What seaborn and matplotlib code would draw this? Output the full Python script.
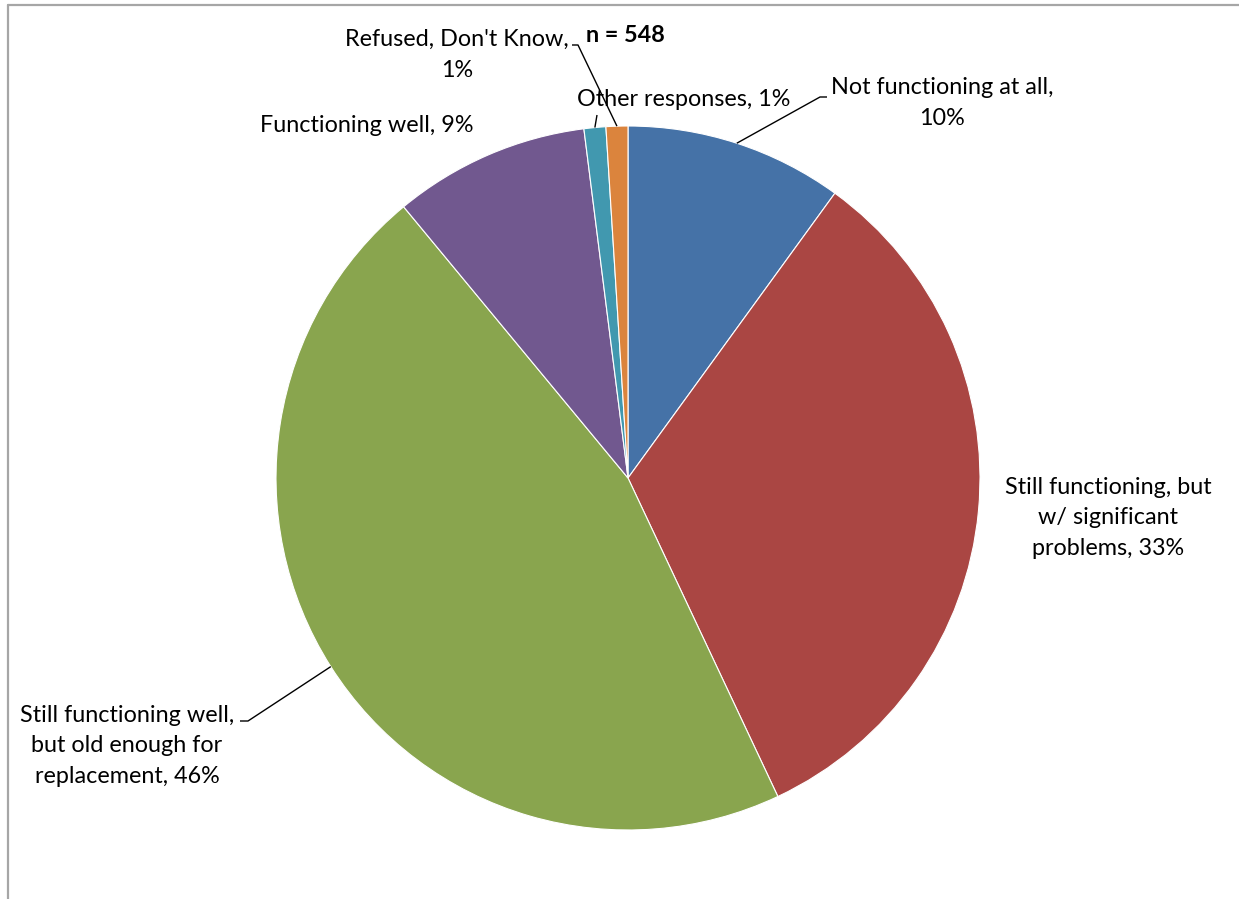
import numpy as np
import matplotlib
matplotlib.use("Agg")
import matplotlib.pyplot as plt
from matplotlib.lines import Line2D
import seaborn as sns

# Survey responses, clockwise from 12 o'clock
categories = [
    "Not functioning at all",
    "Still functioning, but w/ significant problems",
    "Still functioning well, but old enough for replacement",
    "Functioning well",
    "Other responses",
    "Refused, Don't Know",
]
shares = [10, 33, 46, 9, 1, 1]
label_texts = [
    "Not functioning at all,\n10%",
    "Still functioning, but\nw/ significant\nproblems, 33%",
    "Still functioning well,\nbut old enough for\nreplacement, 46%",
    "Functioning well, 9%",
    "Other responses, 1%",
    "Refused, Don't Know,\n1%",
]
colors = ["#4572A7", "#AA4643", "#89A54E", "#71588F", "#4198AF", "#DB843D"]
sample_note = "n = 548"

sns.set_theme(style="white")
plt.rcParams["font.family"] = ["Lato", "DejaVu Sans"]

W, H = 1239, 899
fig = plt.figure(figsize=(W / 100, H / 100), dpi=100)
ax = fig.add_axes([0, 0, 1, 1])

cx, cy, r = 628, H - 478, 352
wedges, _ = ax.pie(
    shares,
    colors=sns.color_palette(colors),
    startangle=90,
    counterclock=False,
    center=(cx, cy),
    radius=r,
    wedgeprops=dict(edgecolor="white", linewidth=0.8),
)
ax.set_xlim(0, W)
ax.set_ylim(0, H)
ax.set_aspect("equal")
ax.axis("off")

fs = 16.8
# label centres (pixel coords from top-left) and elbow points of the leader lines
label_pos = [(942, 103), (1108, 518), (127, 746), (367, 126), (684, 100), (457, 55)]
elbows = [
    [(820, 97), (827, 97)],
    None,
    [(248, 721), (240, 721)],
    None,
    [(597, 115)],
    [(578, 45), (572, 45)],
]

for w, txt, (lx, ly), elb in zip(wedges, label_texts, label_pos, elbows):
    ax.text(lx, H - ly, txt, ha="center", va="center", fontsize=fs,
            color="black", linespacing=1.55)
    if elb is not None:
        mid = np.deg2rad((w.theta1 + w.theta2) / 2)
        ax_pt = (cx + r * np.cos(mid), cy + r * np.sin(mid))
        xs = [ax_pt[0]] + [p[0] for p in elb]
        ys = [ax_pt[1]] + [H - p[1] for p in elb]
        ax.plot(xs, ys, color="black", linewidth=1.0, solid_capstyle="butt")

ax.text(625, H - 36, sample_note, ha="center", va="center", fontsize=fs,
        fontweight="bold", color="black")

# chart-area frame (top and left edges)
fig.add_artist(Line2D([8 / W, 1], [1 - 4.5 / H, 1 - 4.5 / H], color="#A6A6A6",
                      linewidth=1.6, transform=fig.transFigure))
fig.add_artist(Line2D([8 / W, 8 / W], [0, 1 - 4.5 / H], color="#A6A6A6",
                      linewidth=1.6, transform=fig.transFigure))

fig.savefig("out.png", dpi=100, facecolor="white")
